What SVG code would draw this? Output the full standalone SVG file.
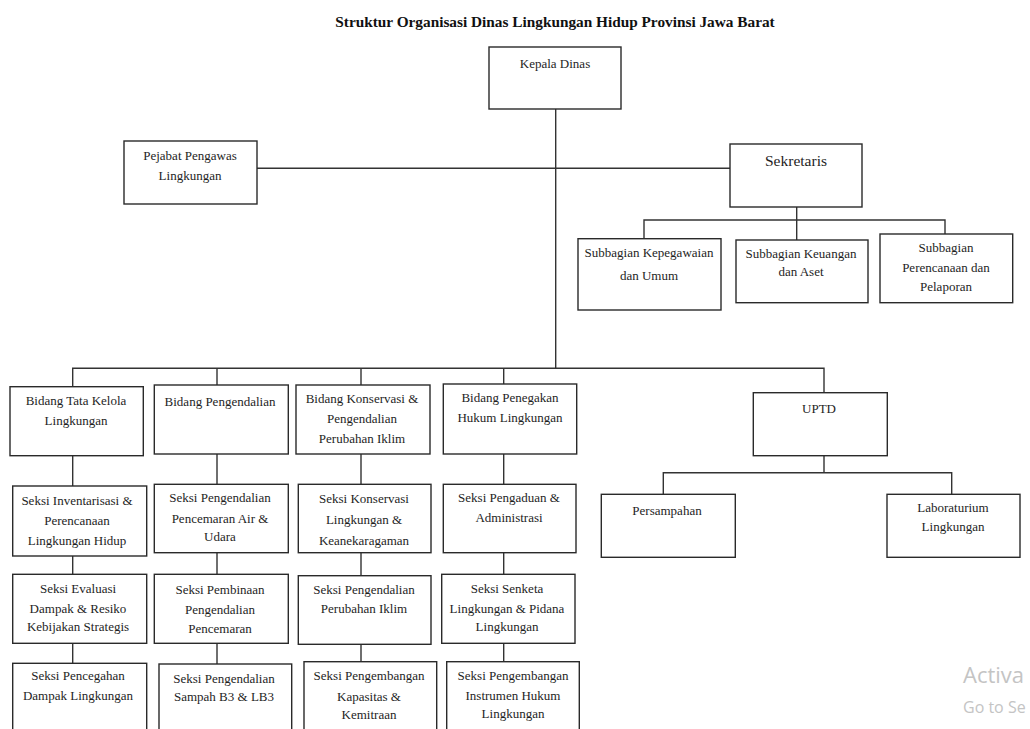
<svg xmlns="http://www.w3.org/2000/svg" width="1030" height="729" viewBox="0 0 1030 729">
<style>
.box{fill:#fff;stroke:#2a2a2a;stroke-width:1.4}
.t{font-family:"Liberation Serif","Times New Roman",serif;font-size:13px;fill:#1e1e1e;text-anchor:middle}
.big{font-size:15.5px}
.title{font-family:"Liberation Serif","Times New Roman",serif;font-size:15.3px;font-weight:bold;fill:#111;text-anchor:middle}
.ln{fill:none;stroke:#333;stroke-width:1.4}
.wm{font-family:"Open Sans","Noto Sans",sans-serif;fill:#c4c4c4}
</style>
<rect width="1030" height="729" fill="#fff"/>
<text class="title" x="555" y="27">Struktur Organisasi Dinas Lingkungan Hidup Provinsi Jawa Barat</text>

<g id="connectors">
<path class="ln" d="M555.7,109 V368.3"/>
<path class="ln" d="M257,168.3 H730"/>
<path class="ln" d="M796.7,207 V240 M644,238.7 V220 H945 V234"/>
<path class="ln" d="M72.7,386.7 V368.3 H824 V392.7"/>
<path class="ln" d="M217,368.3 V385 M361,368.3 V385 M503.7,368.3 V384"/>
<path class="ln" d="M72.7,455.7 V486 M72.7,556 V574.3 M72.7,643.3 V663.3"/>
<path class="ln" d="M217,454 V484.3 M217,552.7 V574.3 M217,643.3 V664"/>
<path class="ln" d="M361,454 V484.3 M361,552.7 V575.7 M361,644.3 V661.7"/>
<path class="ln" d="M503.7,454 V484.3 M503.7,552.7 V574.3 M503.7,643.3 V661.7"/>
<path class="ln" d="M824,455.7 V472.7 M663.3,494.3 V472.7 H951.7 V494.3"/>
</g>

<g id="kepala-dinas"><rect class="box" x="489" y="47" width="132" height="62"/><text class="t" x="555" y="68">Kepala Dinas</text></g>
<g id="pejabat-pengawas"><rect class="box" x="124" y="141" width="133" height="63"/><text class="t" x="190" y="160">Pejabat Pengawas</text><text class="t" x="190" y="180">Lingkungan</text></g>
<g id="sekretaris"><rect class="box" x="730" y="144" width="132" height="63"/><text class="t big" x="796" y="166">Sekretaris</text></g>
<g id="subbag-kepegawaian"><rect class="box" x="578" y="238.7" width="143" height="71.3"/><text class="t" x="649" y="257">Subbagian Kepegawaian</text><text class="t" x="649" y="280">dan Umum</text></g>
<g id="subbag-keuangan"><rect class="box" x="736" y="240" width="132" height="62.7"/><text class="t" x="801" y="258">Subbagian Keuangan</text><text class="t" x="801" y="276">dan Aset</text></g>
<g id="subbag-perencanaan"><rect class="box" x="880" y="234" width="132.7" height="68.7"/><text class="t" x="946" y="252">Subbagian</text><text class="t" x="946" y="272">Perencanaan dan</text><text class="t" x="946" y="291">Pelaporan</text></g>

<g id="bidang-tata-kelola"><rect class="box" x="10" y="386.7" width="133.3" height="69"/><text class="t" x="76" y="405">Bidang Tata Kelola</text><text class="t" x="76" y="425">Lingkungan</text></g>
<g id="bidang-pengendalian"><rect class="box" x="154.3" y="385" width="134" height="69"/><text class="t" x="220" y="406">Bidang Pengendalian</text></g>
<g id="bidang-konservasi"><rect class="box" x="296" y="385" width="134" height="69"/><text class="t" x="362" y="403">Bidang Konservasi &amp;</text><text class="t" x="362" y="423">Pengendalian</text><text class="t" x="362" y="443">Perubahan Iklim</text></g>
<g id="bidang-penegakan"><rect class="box" x="443.3" y="384" width="133.4" height="70"/><text class="t" x="510" y="402">Bidang Penegakan</text><text class="t" x="510" y="422">Hukum Lingkungan</text></g>
<g id="uptd"><rect class="box" x="753.3" y="392.7" width="134" height="63"/><text class="t" x="819" y="413">UPTD</text></g>

<g id="seksi-inventarisasi"><rect class="box" x="12.7" y="486" width="134" height="70"/><text class="t" x="77" y="505">Seksi Inventarisasi &amp;</text><text class="t" x="77" y="525">Perencanaan</text><text class="t" x="77" y="545">Lingkungan Hidup</text></g>
<g id="seksi-evaluasi"><rect class="box" x="12.7" y="574.3" width="134" height="69"/><text class="t" x="78" y="593">Seksi Evaluasi</text><text class="t" x="78" y="613">Dampak &amp; Resiko</text><text class="t" x="78" y="631">Kebijakan Strategis</text></g>
<g id="seksi-pencegahan"><rect class="box" x="12.7" y="663.3" width="134" height="80"/><text class="t" x="78" y="680">Seksi Pencegahan</text><text class="t" x="78" y="700">Dampak Lingkungan</text></g>

<g id="seksi-pencemaran-air"><rect class="box" x="154.3" y="484.3" width="134" height="68.4"/><text class="t" x="220" y="502">Seksi Pengendalian</text><text class="t" x="220" y="523">Pencemaran Air &amp;</text><text class="t" x="220" y="541">Udara</text></g>
<g id="seksi-pembinaan"><rect class="box" x="154.3" y="574.3" width="134" height="69"/><text class="t" x="220" y="594">Seksi Pembinaan</text><text class="t" x="220" y="614">Pengendalian</text><text class="t" x="220" y="633">Pencemaran</text></g>
<g id="seksi-sampah-b3"><rect class="box" x="159" y="664" width="132.7" height="80"/><text class="t" x="224" y="683">Seksi Pengendalian</text><text class="t" x="224" y="701">Sampah B3 &amp; LB3</text></g>

<g id="seksi-konservasi"><rect class="box" x="298.3" y="484.3" width="132.7" height="68.4"/><text class="t" x="364" y="503">Seksi Konservasi</text><text class="t" x="364" y="524">Lingkungan &amp;</text><text class="t" x="364" y="545">Keanekaragaman</text></g>
<g id="seksi-perubahan-iklim"><rect class="box" x="298.3" y="575.7" width="132.7" height="68.6"/><text class="t" x="364" y="594">Seksi Pengendalian</text><text class="t" x="364" y="613">Perubahan Iklim</text></g>
<g id="seksi-kapasitas"><rect class="box" x="304" y="661.7" width="132.7" height="80"/><text class="t" x="369" y="680">Seksi Pengembangan</text><text class="t" x="369" y="701">Kapasitas &amp;</text><text class="t" x="369" y="719">Kemitraan</text></g>

<g id="seksi-pengaduan"><rect class="box" x="443.3" y="484.3" width="132.7" height="68.4"/><text class="t" x="509" y="502">Seksi Pengaduan &amp;</text><text class="t" x="509" y="522">Administrasi</text></g>
<g id="seksi-senketa"><rect class="box" x="441.7" y="574.3" width="133.3" height="69"/><text class="t" x="507" y="593">Seksi Senketa</text><text class="t" x="507" y="613">Lingkungan &amp; Pidana</text><text class="t" x="507" y="631">Lingkungan</text></g>
<g id="seksi-instrumen"><rect class="box" x="446.7" y="661.7" width="132.6" height="80"/><text class="t" x="513" y="680">Seksi Pengembangan</text><text class="t" x="513" y="700">Instrumen Hukum</text><text class="t" x="513" y="718">Lingkungan</text></g>

<g id="persampahan"><rect class="box" x="601.3" y="494.3" width="134" height="63"/><text class="t" x="667" y="515">Persampahan</text></g>
<g id="laboraturium"><rect class="box" x="887" y="494.3" width="133" height="63"/><text class="t" x="953" y="512">Laboraturium</text><text class="t" x="953" y="531">Lingkungan</text></g>

<text class="wm" x="963" y="683" font-size="22">Activa</text>
<text class="wm" x="963" y="713" font-size="16">Go to Se</text>
</svg>
